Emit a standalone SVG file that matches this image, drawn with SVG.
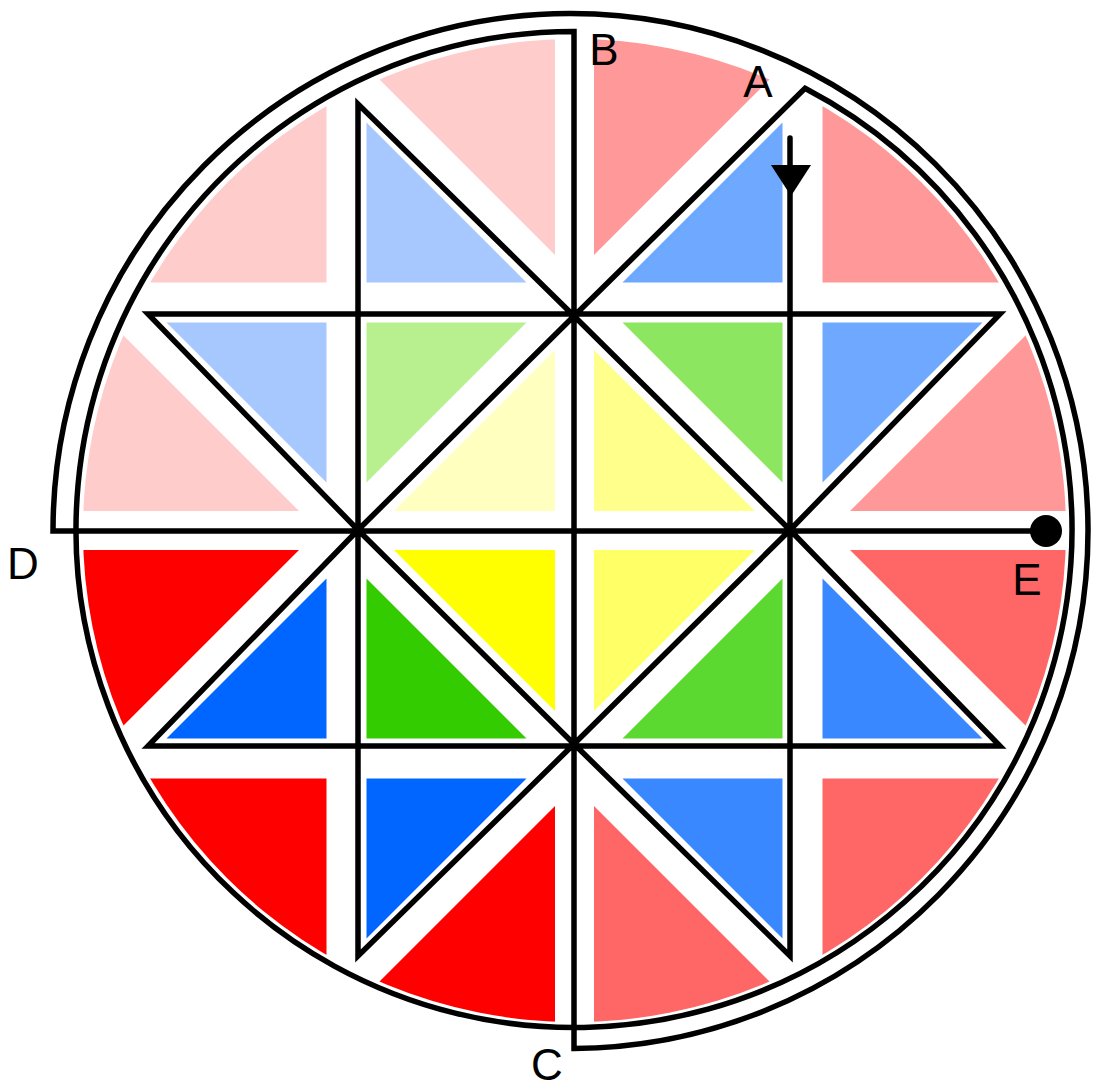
<svg xmlns="http://www.w3.org/2000/svg" width="1094" height="1088" viewBox="0 0 1094 1088">
<style>
.ln{fill:none;stroke:#000;stroke-width:5.5;stroke-linejoin:miter;stroke-linecap:round}
.lbl{font-family:"Liberation Sans",Arial,sans-serif;font-size:44px;fill:#000;text-anchor:middle}
</style>
<defs>
<clipPath id="clip"><circle cx="0" cy="0" r="491.5"/></clipPath>
<polygon id="s1" points="-560,-560 -248,-560 -248,-248 -560,-248"/>
<polygon id="s2" points="-208,-560 -19.5,-560 -19.5,-275.5 -208,-464"/>
<polygon id="s3" points="-208,-248 -48,-248 -208,-408"/>
<polygon id="s4" points="-248,-208 -248,-48 -408,-208"/>
<polygon id="s5" points="-560,-208 -464,-208 -275.5,-19.5 -560,-19.5"/>
<polygon id="s6" points="-208,-208 -48,-208 -208,-48"/>
<polygon id="s7" points="-19.5,-19.5 -180.5,-19.5 -19.5,-180.5"/>
</defs>
<rect width="1094" height="1088" fill="#fff"/>
<g id="tiles" transform="translate(574.5,530.5)">
<g clip-path="url(#clip)">
<g id="q-tl">
<use href="#s1" fill="#FFCCCC"/><use href="#s2" fill="#FFCCCC"/><use href="#s3" fill="#A6C8FF"/><use href="#s4" fill="#A6C8FF"/><use href="#s5" fill="#FFCCCC"/><use href="#s6" fill="#B8F090"/><use href="#s7" fill="#FFFFC0"/>
</g>
<g id="q-tr" transform="scale(-1,1)">
<use href="#s1" fill="#FF9999"/><use href="#s2" fill="#FF9999"/><use href="#s3" fill="#6EA8FF"/><use href="#s4" fill="#6EA8FF"/><use href="#s5" fill="#FF9999"/><use href="#s6" fill="#8CE660"/><use href="#s7" fill="#FFFF8C"/>
</g>
<g id="q-bl" transform="scale(1,-1)">
<use href="#s1" fill="#FF0000"/><use href="#s2" fill="#FF0000"/><use href="#s3" fill="#0066FF"/><use href="#s4" fill="#0066FF"/><use href="#s5" fill="#FF0000"/><use href="#s6" fill="#33CC00"/><use href="#s7" fill="#FFFF00"/>
</g>
<g id="q-br" transform="scale(-1,-1)">
<use href="#s1" fill="#FF6666"/><use href="#s2" fill="#FF6666"/><use href="#s3" fill="#3A88FF"/><use href="#s4" fill="#3A88FF"/><use href="#s5" fill="#FF6666"/><use href="#s6" fill="#5CD930"/><use href="#s7" fill="#FFFF66"/>
</g>
</g>
</g>
<g id="connectors">
<path id="route" class="ln" d="M790,138 V956 L574,744 L358,530 L148,314 H1000 L790,530 L574,744 L358,956 V104 L574,316 L790,530 L1000,746 H148 L358,530 L574,316 L805,88.3 A498,498 0 1 1 574,31.5 V1048.5 A517.5,517.5 0 1 0 53,531 H1046"/>
<polygon id="arrow" points="771,165 811,165 791,196" fill="#000"/>
<circle id="end-dot" cx="1046" cy="531" r="16" fill="#000"/>
</g>
<g id="labels">
<text class="lbl" x="758" y="97">A</text>
<text class="lbl" x="604" y="65">B</text>
<text class="lbl" x="547" y="1080">C</text>
<text class="lbl" x="23" y="579">D</text>
<text class="lbl" x="1027" y="595">E</text>
</g>
</svg>
